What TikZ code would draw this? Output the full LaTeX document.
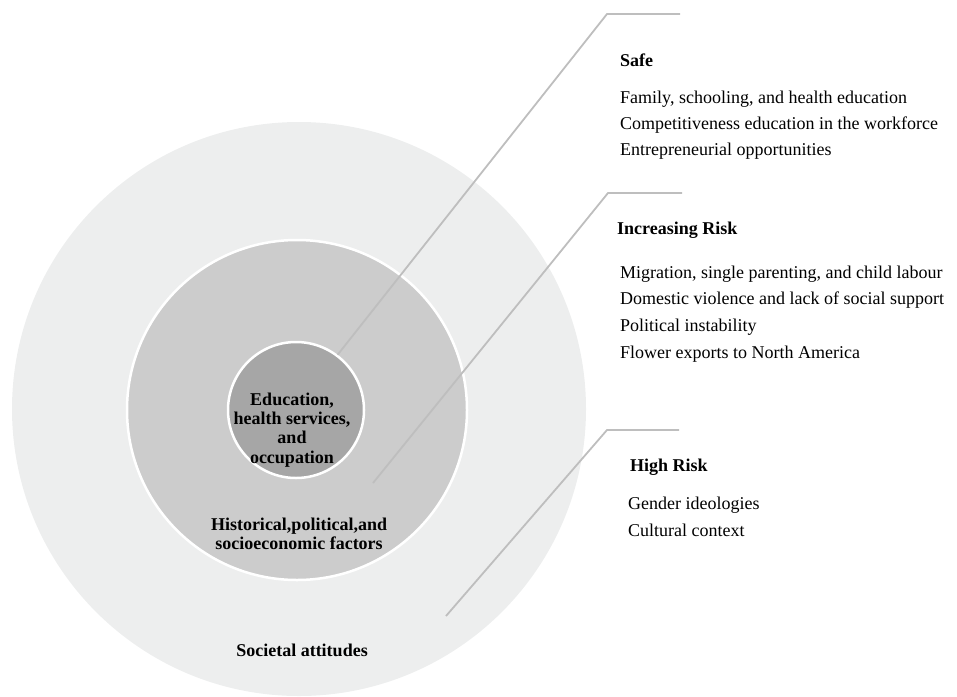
\documentclass[tikz,border=0pt]{standalone}
\usepackage{fontspec}
\setmainfont{Liberation Serif}
\definecolor{outerfill}{RGB}{237,238,238}
\definecolor{midfill}{RGB}{204,204,204}
\definecolor{corefill}{RGB}{166,166,166}
\definecolor{leadgray}{RGB}{190,190,190}
\begin{document}
\begin{tikzpicture}[x=1pt,y=-1pt,
  every node/.style={inner sep=0pt,font=\fontsize{18}{20}\selectfont},
  ring/.style={circle,draw=white,line width=2.5pt},
  leader/.style={draw=leadgray,line width=1.8pt},
  head/.style={anchor=base west,font=\fontsize{18}{20}\selectfont\bfseries},
  item/.style={anchor=base west},
  ringtext/.style={align=center,font=\fontsize{18}{19.3}\selectfont\bfseries}]
\useasboundingbox (0,0) rectangle (957,696);
% the three levels
\node [circle,fill=outerfill,minimum size=574pt] (outer) at (299,409) {};
\node [ring,fill=midfill,minimum size=340pt] (middle) at (297,410) {};
\node [ring,fill=corefill,minimum size=136pt] (core) at (296,410) {};
\node [ringtext] (coretext) at (292,430) {Education,\\health services,\\and\\occupation};
\node [ringtext] (midtext) at (299,534) {Historical,political,and\\socioeconomic factors};
\node [ringtext] (outertext) at (302,650) {Societal attitudes};
% leaders
\coordinate (safebend) at (607,14);
\coordinate (safeend) at (680,14);
\coordinate (incrstart) at (373,483);
\coordinate (incrbend) at (608,193);
\coordinate (incrend) at (682,193);
\coordinate (highstart) at (446,616);
\coordinate (highbend) at (607,430);
\coordinate (highend) at (679,430);
\draw [leader] (core.53) -- (safebend) -- (safeend);
\draw [leader] (incrstart) -- (incrbend) -- (incrend);
\draw [leader] (highstart) -- (highbend) -- (highend);
% right hand text
\node [head] (safe) at (620,66) {Safe};
\node [item] (safe1) at (620,103) {Family, schooling, and health education};
\node [item] (safe2) at (620,129) {Competitiveness education in the workforce};
\node [item] (safe3) at (620,155) {Entrepreneurial opportunities};
\node [head] (incr) at (617,234) {Increasing Risk};
\node [item] (incr1) at (620,278) {Migration, single parenting, and child labour};
\node [item] (incr2) at (620,304.5) {Domestic violence and lack of social support};
\node [item] (incr3) at (620,331) {Political instability};
\node [item] (incr4) at (620,358) {Flower exports to North America};
\node [head] (high) at (630,471) {High Risk};
\node [item] (high1) at (628,509) {Gender ideologies};
\node [item] (high2) at (628,536) {Cultural context};
\end{tikzpicture}
\end{document}
